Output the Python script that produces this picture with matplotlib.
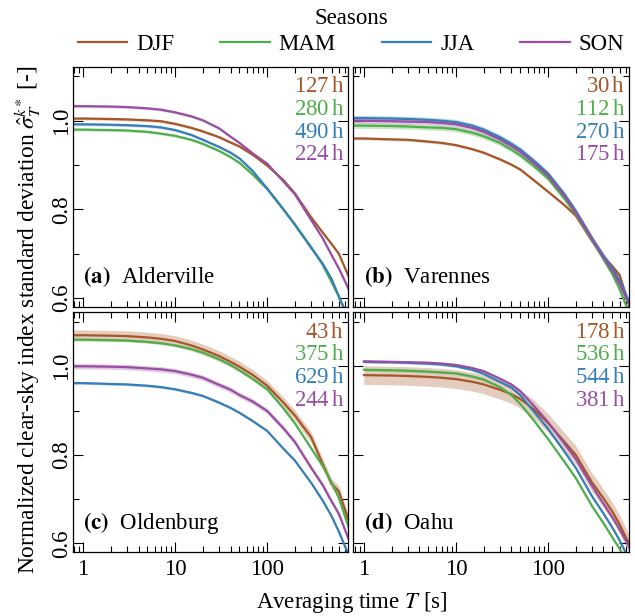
import numpy as np
import matplotlib
matplotlib.use("Agg")
import matplotlib.pyplot as plt
from matplotlib.ticker import FixedLocator, NullFormatter, LogLocator

plt.rcParams['font.family'] = ['Liberation Serif', 'STIXGeneral', 'DejaVu Serif']
plt.rcParams['mathtext.fontset'] = 'stix'
FS = 16.5
plt.rcParams['font.size'] = FS

nan = np.nan
seasons = ["DJF", "MAM", "JJA", "SON"]
colors = ["#a65628", "#4daf4a", "#377eb8", "#984ea3"]

T = [0.77, 1, 2, 3, 5, 7, 10, 15, 20, 30, 40, 50, 70, 100, 150, 200, 300, 400, 500, 600, 800]

sites = ["Alderville", "Varennes", "Oldenburg", "Oahu"]
letters = ["a", "b", "c", "d"]

# Panel (a) Alderville
a_DJF = [1.005, 1.005, 1.004, 1.003, 1.001, 0.999, 0.993, 0.984, 0.976, 0.963, 0.951, 0.942, 0.923, 0.899, 0.866, 0.836, 0.782, 0.748, 0.722, 0.700, 0.640]
a_MAM = [0.980, 0.980, 0.979, 0.978, 0.975, 0.971, 0.966, 0.957, 0.948, 0.932, 0.918, 0.905, 0.878, 0.846, 0.800, 0.765, 0.715, 0.675, 0.636, 0.603, 0.540]
a_JJA = [0.992, 0.992, 0.991, 0.990, 0.988, 0.985, 0.979, 0.968, 0.957, 0.941, 0.928, 0.915, 0.886, 0.847, 0.800, 0.766, 0.713, 0.678, 0.643, 0.604, 0.545]
a_SON = [1.033, 1.033, 1.032, 1.031, 1.028, 1.025, 1.019, 1.010, 1.001, 0.983, 0.964, 0.950, 0.926, 0.903, 0.863, 0.834, 0.776, 0.735, 0.697, 0.667, 0.612]
# Panel (b) Varennes
b_DJF = [0.960, 0.960, 0.958, 0.957, 0.953, 0.950, 0.945, 0.936, 0.928, 0.913, 0.901, 0.890, 0.866, 0.840, 0.810, 0.786, 0.729, 0.693, 0.672, 0.652, 0.570]
b_MAM = [0.989, 0.989, 0.988, 0.987, 0.985, 0.984, 0.981, 0.973, 0.965, 0.950, 0.935, 0.922, 0.898, 0.870, 0.825, 0.790, 0.730, 0.688, 0.654, 0.620, 0.555]
b_JJA = [1.006, 1.006, 1.005, 1.004, 1.002, 1.000, 0.997, 0.989, 0.980, 0.963, 0.948, 0.935, 0.910, 0.881, 0.835, 0.797, 0.736, 0.696, 0.668, 0.640, 0.580]
b_SON = [1.000, 1.000, 0.999, 0.998, 0.997, 0.995, 0.992, 0.984, 0.975, 0.958, 0.943, 0.930, 0.905, 0.876, 0.831, 0.793, 0.733, 0.692, 0.661, 0.632, 0.575]
# Panel (c) Oldenburg
c_DJF = [1.070, 1.070, 1.069, 1.068, 1.065, 1.062, 1.057, 1.047, 1.038, 1.023, 1.010, 0.999, 0.980, 0.956, 0.918, 0.889, 0.840, 0.780, 0.735, 0.718, 0.640]
c_MAM = [1.060, 1.060, 1.059, 1.058, 1.055, 1.052, 1.047, 1.039, 1.031, 1.016, 1.003, 0.991, 0.971, 0.948, 0.905, 0.871, 0.815, 0.775, 0.738, 0.703, 0.625]
c_JJA = [0.962, 0.962, 0.960, 0.959, 0.956, 0.953, 0.948, 0.940, 0.933, 0.918, 0.906, 0.895, 0.876, 0.854, 0.814, 0.787, 0.737, 0.697, 0.662, 0.627, 0.565]
c_SON = [1.000, 1.000, 0.999, 0.998, 0.995, 0.993, 0.989, 0.981, 0.974, 0.958, 0.947, 0.935, 0.920, 0.899, 0.860, 0.829, 0.771, 0.732, 0.695, 0.667, 0.600]
# Panel (d) Oahu (data start at 1 s)
d_DJF = [nan, 0.980, 0.979, 0.978, 0.976, 0.974, 0.971, 0.965, 0.959, 0.947, 0.937, 0.926, 0.903, 0.872, 0.830, 0.800, 0.738, 0.702, 0.672, 0.643, 0.590]
d_MAM = [nan, 0.992, 0.991, 0.990, 0.988, 0.986, 0.984, 0.977, 0.970, 0.953, 0.935, 0.915, 0.878, 0.836, 0.785, 0.748, 0.685, 0.646, 0.614, 0.588, 0.540]
d_JJA = [nan, 1.010, 1.009, 1.008, 1.006, 1.004, 1.000, 0.992, 0.983, 0.965, 0.952, 0.935, 0.898, 0.859, 0.808, 0.771, 0.707, 0.668, 0.636, 0.607, 0.555]
d_SON = [nan, 1.011, 1.010, 1.009, 1.008, 1.006, 1.003, 0.996, 0.989, 0.972, 0.959, 0.944, 0.911, 0.874, 0.826, 0.791, 0.730, 0.690, 0.659, 0.632, 0.585]

# Uncertainty band half-widths
a_band = [0.003, 0.003, 0.003, 0.003]
b_band = [0.003, 0.006, 0.006, 0.006]
c_band = [0.012, 0.003, 0.003, 0.006]
d_band = [0.021, 0.003, 0.003, 0.003]

a_hours = [127, 280, 490, 224]
b_hours = [30, 112, 270, 175]
c_hours = [43, 375, 629, 244]
d_hours = [178, 536, 544, 381]

panels = [
    (a_DJF, a_MAM, a_JJA, a_SON, a_band, a_hours),
    (b_DJF, b_MAM, b_JJA, b_SON, b_band, b_hours),
    (c_DJF, c_MAM, c_JJA, c_SON, c_band, c_hours),
    (d_DJF, d_MAM, d_JJA, d_SON, d_band, d_hours),
]

fig, axes = plt.subplots(2, 2, figsize=(6.35, 6.16), dpi=100, sharex=True, sharey=True)
fig.subplots_adjust(left=0.1145, right=0.9906, top=0.8917, bottom=0.1034,
                    wspace=0.019, hspace=0.0225)

Tarr = np.array(T)
for k, ax in enumerate(axes.flat):
    p = panels[k]
    for s in range(4):
        y = np.array(p[s], dtype=float)
        hw = p[4][s]
        ax.fill_between(Tarr, y - hw, y + hw, color=colors[s], alpha=0.3, lw=0)
        ax.plot(Tarr, y, color=colors[s], lw=1.6, label=seasons[s])
        ax.text(0.985, 0.917 - 0.0945 * s, f"{p[5][s]}$\\,$h", color=colors[s],
                transform=ax.transAxes, ha='right', va='center', fontsize=FS)
    ax.text(0.037, 0.097, f"$\\mathbf{{({letters[k]})}}$  {sites[k]}",
            transform=ax.transAxes, ha='left', va='baseline', fontsize=FS)
    ax.set_xscale('log')
    ax.set_xlim(0.77, 760)
    ax.set_ylim(0.58, 1.122)
    ax.xaxis.set_major_locator(FixedLocator([1, 10, 100]))
    ax.xaxis.set_minor_locator(LogLocator(base=10, subs=np.arange(2, 10)))
    ax.xaxis.set_minor_formatter(NullFormatter())
    ax.set_xticks([1, 10, 100])
    ax.set_xticklabels(["1", "10", "100"])
    ax.set_yticks([0.6, 0.8, 1.0])
    ax.set_yticklabels(["0.6", "0.8", "1.0"])
    ax.yaxis.set_minor_locator(FixedLocator([0.7, 0.9, 1.1]))
    ax.tick_params(which='both', direction='in', top=True, right=True, width=0.8)
    ax.tick_params(which='major', length=7, labelsize=FS)
    ax.tick_params(which='minor', length=4.5)
    ax.tick_params(axis='y', labelrotation=90, pad=0.5)
    ax.tick_params(axis='x', pad=5)
    for lbl in ax.get_yticklabels():
        lbl.set_va('center')
    for sp in ax.spines.values():
        sp.set_linewidth(0.9)

handles, labels = axes[0, 0].get_legend_handles_labels()
fig.legend(handles, labels, loc='upper center', bbox_to_anchor=(0.553, 1.002), ncol=4,
           frameon=False, title='Seasons', fontsize=FS, title_fontsize=FS,
           handlelength=2.15, handletextpad=0.4, columnspacing=2.0, borderaxespad=0.2,
           borderpad=0.2, labelspacing=0.2)

fig.text(0.5545, 1 - 608 / 616, "Averaging time $T$ [s]", ha='center', va='baseline', fontsize=FS)
fig.text(0.044, 1 - 320 / 616, r"Normalized clear-sky index standard deviation $\hat{\sigma}_T^{k*}$ [-]",
         rotation=90, ha='center', va='center', fontsize=16.9)

fig.savefig("out.png", dpi=100)
